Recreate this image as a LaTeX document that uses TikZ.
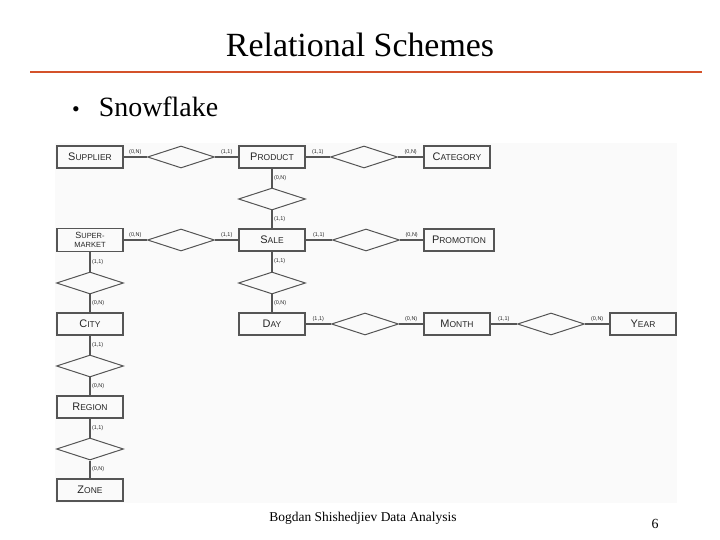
\documentclass[tikz,border=0pt]{standalone}
\usepackage{fontspec}
\setmainfont{Liberation Serif}
\setsansfont{Liberation Sans}
\usetikzlibrary{shapes.geometric}

\definecolor{titlebar}{RGB}{212,82,42}
\definecolor{erline}{RGB}{85,85,85}
% small caps by hand: first letter large, the rest small
\newcommand{\fakesc}[2]{{\fontsize{11}{11}\selectfont #1}{\fontsize{8.5}{8.5}\selectfont #2}}
% cardinalities
\newcommand{\cZN}{(0,N)}
\newcommand{\cOO}{(1,1)}

\tikzset{
  entity/.style={draw=erline, line width=1.2pt, minimum width=66bp, minimum height=22bp,
    inner sep=0pt, font=\sffamily, text=black!85, align=center},
  relship/.style={diamond, draw=erline, line width=1pt, minimum width=67bp,
    minimum height=22bp, inner sep=0pt},
  link/.style={draw=erline, line width=1.1pt},
  card/.style={font=\sffamily\fontsize{5.5}{6}\selectfont, text=black!85, inner sep=1.5pt}
}

\begin{document}
\begin{tikzpicture}[x=1bp, y=-1bp]
  \useasboundingbox (0,0) rectangle (720,540);

  % Slide title and bar
  \node[anchor=base, font=\fontsize{34}{34}\selectfont] (title) at (360,57) {Relational Schemes};
  \draw[titlebar, line width=3pt] (30,72) -- (702,72);
  \node[anchor=base west, font=\fontsize{28}{28}\selectfont, inner sep=0pt] (bullet) at (72,117)
    {\raisebox{1pt}{\fontsize{22}{22}\selectfont•}\hspace{19bp}Snowflake};

  % Scanned figure background
  \fill[gray!4] (55,143) rectangle (677,503);

  % Entities
  \node[entity] (sup)    at (90,157)  {\fakesc{S}{UPPLIER}};
  \node[entity] (prod)   at (272,157) {\fakesc{P}{RODUCT}};
  \node[entity] (cat)    at (457,157) {\fakesc{C}{ATEGORY}};
  \node[entity, minimum height=23bp] (smkt) at (90,240)
    {{\fontsize{9}{9}\selectfont S}{\fontsize{7.5}{7.5}\selectfont UPER-}\\[-3.5pt]%
     {\fontsize{7.5}{7.5}\selectfont MARKET}};
  \node[entity] (sale)   at (272,240) {\fakesc{S}{ALE}};
  \node[entity, minimum width=70bp] (promo) at (459,240) {\fakesc{P}{ROMOTION}};
  \node[entity] (city)   at (90,324)  {\fakesc{C}{ITY}};
  \node[entity] (day)    at (272,324) {\fakesc{D}{AY}};
  \node[entity] (month)  at (457,324) {\fakesc{M}{ONTH}};
  \node[entity] (year)   at (643,324) {\fakesc{Y}{EAR}};
  \node[entity] (region) at (90,407)  {\fakesc{R}{EGION}};
  \node[entity] (zone)   at (90,490)  {\fakesc{Z}{ONE}};

  % Relationships
  \node[relship] (rSupProd)   at (181,157) {};
  \node[relship] (rProdCat)   at (364,157) {};
  \node[relship] (rProdSale)  at (272,199) {};
  \node[relship] (rSmktSale)  at (181,240) {};
  \node[relship] (rSalePromo) at (366,240) {};
  \node[relship] (rSmktCity)  at (90,283)  {};
  \node[relship] (rSaleDay)   at (272,283) {};
  \node[relship] (rDayMonth)  at (365,324) {};
  \node[relship] (rMonthYear) at (551,324) {};
  \node[relship] (rCityReg)   at (90,366)  {};
  \node[relship] (rRegZone)   at (90,449)  {};

  % Horizontal links
  \foreach \a/\r/\b/\ca/\cb in {sup/rSupProd/prod/\cZN/\cOO, prod/rProdCat/cat/\cOO/\cZN,
      smkt/rSmktSale/sale/\cZN/\cOO, sale/rSalePromo/promo/\cOO/\cZN,
      day/rDayMonth/month/\cOO/\cZN, month/rMonthYear/year/\cOO/\cZN}
    \draw[link] (\a) -- node[card, above] (l\a\r) {\ca} (\r)
                     -- node[card, above] (l\r\b) {\cb} (\b);

  % Vertical links
  \foreach \a/\r/\b/\ca/\cb in {prod/rProdSale/sale/\cZN/\cOO, sale/rSaleDay/day/\cOO/\cZN,
      smkt/rSmktCity/city/\cOO/\cZN, city/rCityReg/region/\cOO/\cZN,
      region/rRegZone/zone/\cOO/\cZN}
    \draw[link] (\a) -- node[card, right] (l\a\r) {\ca} (\r)
                     -- node[card, right] (l\r\b) {\cb} (\b);

  % Footer
  \node[anchor=base, font=\fontsize{13.5}{14}\selectfont] (footer) at (363,521)
    {Bogdan Shishedjiev Data Analysis};
  \node[anchor=base, font=\fontsize{14}{14}\selectfont] (pagenum) at (655,528) {6};
\end{tikzpicture}
\end{document}
